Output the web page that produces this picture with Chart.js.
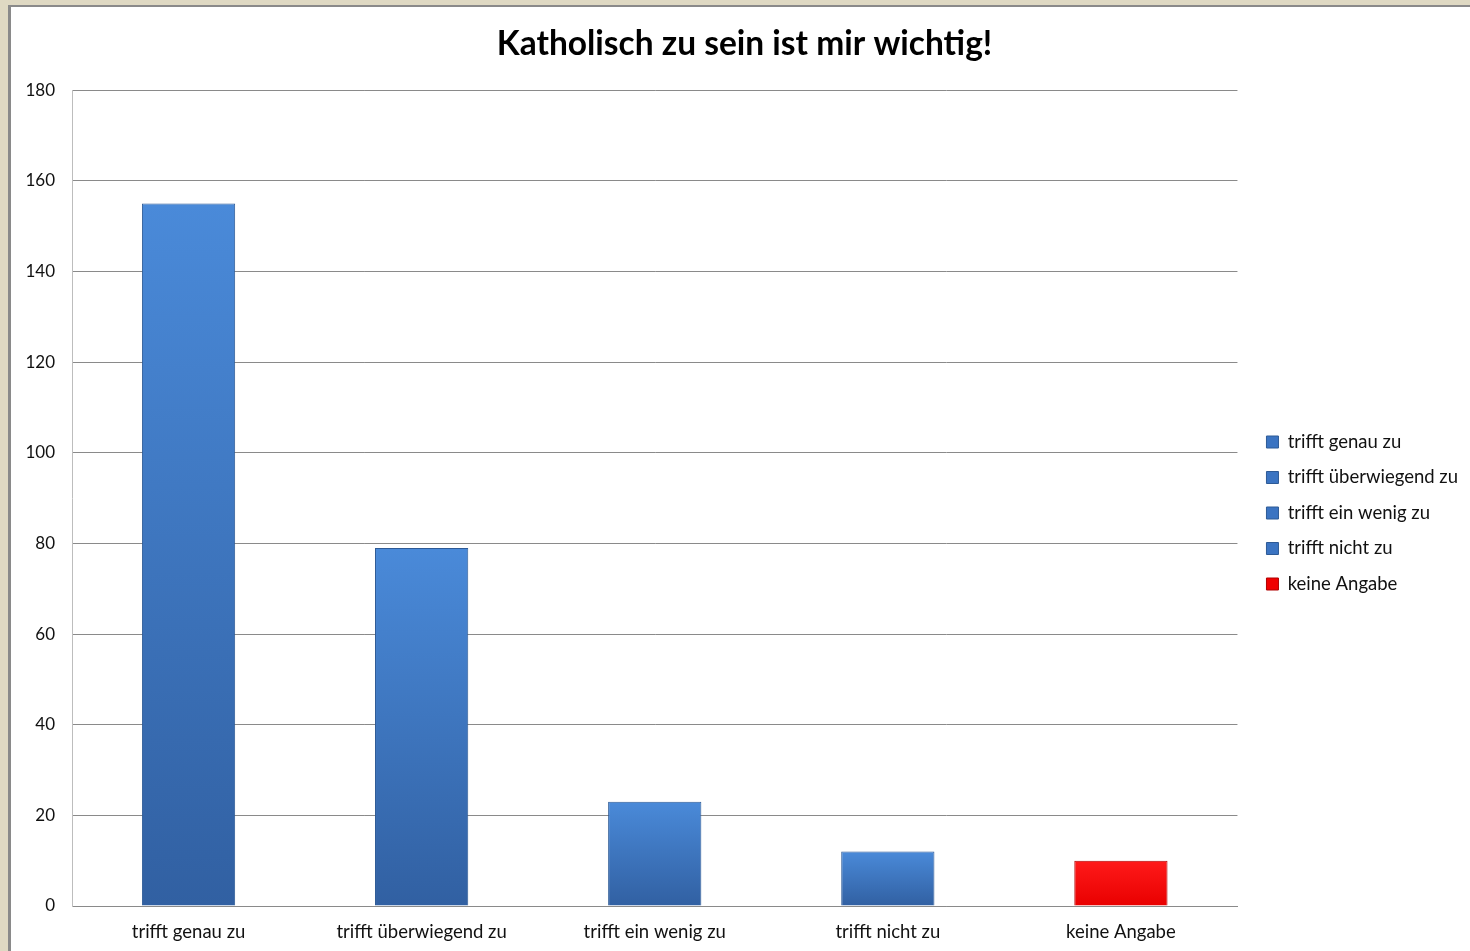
<!DOCTYPE html>
<html lang="de">
<head>
<meta charset="UTF-8">
<title>Katholisch zu sein ist mir wichtig!</title>
<script src="https://cdn.jsdelivr.net/npm/chart.js"></script>
<style>
  html, body { margin: 0; padding: 0; background: #dfd9c3; }
  #frame {
    position: absolute; left: 8px; top: 5px;
    width: 1462px; height: 946px;
    background: #fff;
    border-left: 3px solid #8a8a8a;
    border-top: 2px solid #8a8a8a;
  }
  canvas { display: block; }
</style>
</head>
<body>
<div id="frame"><canvas id="chart" width="1459" height="944"></canvas></div>
<script>
  // Values
  const categories = ['trifft genau zu', 'trifft überwiegend zu', 'trifft ein wenig zu', 'trifft nicht zu', 'keine Angabe'];
  const counts = [155, 79, 23, 12, 10];
  const yTicks = [0, 20, 40, 60, 80, 100, 120, 140, 160, 180];
  const isRed = [false, false, false, false, true];

  const fontFamily = 'Lato, "Open Sans", sans-serif';

  // per-bar vertical gradient, light at the top and dark at the bottom
  function barFill(context) {
    const chart = context.chart;
    const yScale = chart.scales.y;
    if (!yScale || context.dataIndex === undefined) return '#3a74c4';
    const v = context.raw;
    const top = yScale.getPixelForValue(v);
    const bottom = yScale.getPixelForValue(0);
    const g = chart.ctx.createLinearGradient(0, top, 0, bottom);
    if (isRed[context.dataIndex]) {
      g.addColorStop(0, '#ff1a1a');
      g.addColorStop(1, '#e80000');
    } else {
      g.addColorStop(0, '#4a8ad9');
      g.addColorStop(1, '#3160a2');
    }
    return g;
  }

  // nudge legend and title a little to the right, like in the original
  const nudge = {
    id: 'nudge',
    afterLayout(chart) {
      chart.legend.left += 12;
      chart.legend.right += 12;
      chart.titleBlock.left += 11;
      chart.titleBlock.right += 11;
    }
  };

  const ctx = document.getElementById('chart').getContext('2d');
  new Chart(ctx, {
    type: 'bar',
    plugins: [nudge],
    data: {
      labels: categories,
      datasets: [{
        data: counts,
        backgroundColor: barFill,
        borderColor: categories.map((c, i) => isRed[i] ? '#b00000' : '#2d5a96'),
        borderWidth: 1,
        barPercentage: 0.4,
        categoryPercentage: 1.0
      }]
    },
    options: {
      responsive: false,
      animation: false,
      layout: { padding: { left: 0, right: 14, top: 0, bottom: 0 } },
      plugins: {
        title: {
          display: true,
          text: 'Katholisch zu sein ist mir wichtig!',
          color: '#000',
          font: { family: fontFamily, size: 33.5, weight: 'bold' },
          padding: { top: 17, bottom: 26 }
        },
        legend: {
          position: 'right',
          title: { display: true, text: ' ', font: { size: 20 }, padding: 22 },
          labels: {
            color: '#111',
            font: { family: fontFamily, size: 18.5 },
            boxWidth: 12,
            boxHeight: 12,
            padding: 17,
            generateLabels: () => categories.map((c, i) => ({
              text: c,
              fillStyle: isRed[i] ? '#f00000' : '#3b74c2',
              strokeStyle: isRed[i] ? '#b00000' : '#2d5a96',
              fontColor: '#111',
              lineWidth: 1,
              index: i
            }))
          }
        },
        tooltip: { enabled: false }
      },
      scales: {
        x: {
          grid: { display: false, drawTicks: false },
          border: { color: '#8a8a8a', width: 1 },
          ticks: { color: '#111', font: { family: fontFamily, size: 18.5 }, padding: 15 },
          afterFit: s => { s.height = 45; }
        },
        y: {
          min: 0,
          max: 180,
          afterBuildTicks: s => { s.ticks = yTicks.map(v => ({ value: v })); },
          grid: { color: '#8a8a8a', lineWidth: 1, drawTicks: false },
          border: { color: '#bdbdbd', width: 1 },
          ticks: { color: '#111', font: { family: fontFamily, size: 17 }, padding: 17 },
          afterFit: s => { s.width = 61; }
        }
      }
    }
  });
</script>
</body>
</html>
